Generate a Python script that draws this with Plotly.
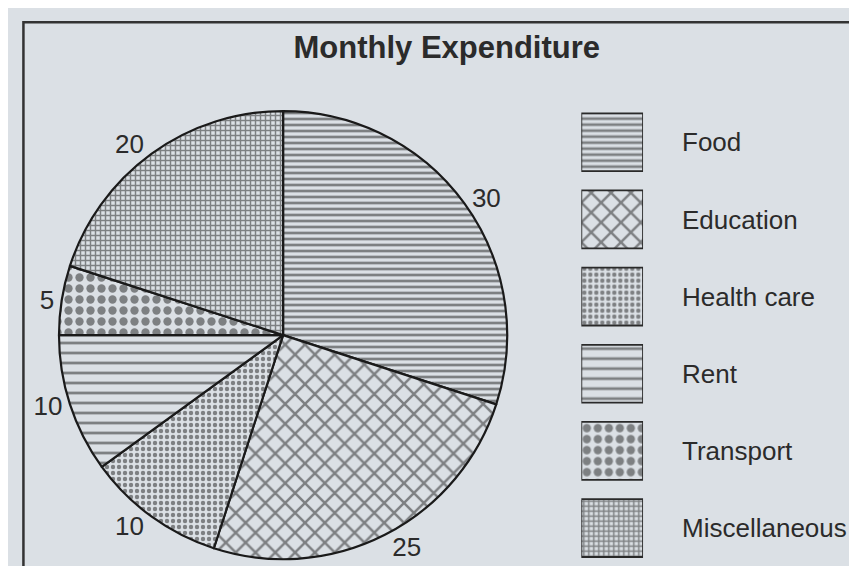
import plotly.graph_objects as go

title = "Monthly Expenditure"
categories = ["Food", "Education", "Health care", "Rent", "Transport", "Miscellaneous"]
values = [30, 25, 10, 10, 5, 20]
pattern_shapes = ["-", "x", ".", "-", ".", "+"]
pattern_sizes = [6, 14, 6, 10, 11, 5]
pattern_solidity = [0.45, 0.32, 0.42, 0.28, 0.45, 0.5]

FONT = "Liberation Sans, Arial, sans-serif"
BG = "#dbe0e5"
INK = "#2b2b2b"
FG = "#1f1f1f"

fig = go.Figure()

fig.add_trace(go.Pie(
    labels=categories,
    values=values,
    sort=False,
    direction="clockwise",
    rotation=0,
    textinfo="value",
    textposition="outside",
    textfont=dict(family=FONT, size=26, color=INK),
    marker=dict(
        colors=[BG] * len(categories),
        line=dict(color="#1a1a1a", width=2.2),
        pattern=dict(shape=pattern_shapes, size=pattern_sizes,
                     solidity=pattern_solidity, fgcolor=FG,
                     bgcolor=BG, fillmode="overlay"),
    ),
    domain=dict(x=[0.0595, 0.5825], y=[0.026, 0.818]),
    showlegend=False,
    hoverinfo="label+value",
))

# legend swatches drawn as a small bar chart of the categories
fig.add_trace(go.Bar(
    x=[1] * len(categories),
    y=categories,
    orientation="h",
    xaxis="x2",
    yaxis="y2",
    marker=dict(
        color=BG,
        line=dict(color="#2a2a2a", width=1.8),
        pattern=dict(shape=pattern_shapes, size=pattern_sizes,
                     solidity=pattern_solidity, fgcolor=FG,
                     bgcolor=BG, fillmode="overlay"),
    ),
    showlegend=False,
    hoverinfo="y",
))

fig.update_layout(
    width=857, height=566,
    margin=dict(l=0, r=0, t=0, b=0),
    paper_bgcolor=BG,
    plot_bgcolor=BG,
    bargap=0.25,
    title=dict(text="<b>" + title + "</b>", x=0.512, xanchor="center",
               y=0.93, yanchor="middle",
               font=dict(family=FONT, size=31, color=INK)),
    xaxis=dict(visible=False),
    yaxis=dict(visible=False),
    xaxis2=dict(domain=[0.669, 0.741], range=[0, 1], visible=False,
                anchor="y2", fixedrange=True),
    yaxis2=dict(domain=[0.013, 0.831], anchor="x2", side="right",
                categoryorder="array", categoryarray=categories,
                autorange="reversed", showgrid=False, showline=False,
                zeroline=False, ticks="", ticklabelstandoff=38,
                tickfont=dict(family=FONT, size=26, color=INK)),
    shapes=[dict(type="rect", xref="paper", yref="paper",
                 x0=0.018, x1=1.02, y0=0.007, y1=0.975,
                 line=dict(color="#333333", width=2.5))],
)

fig.write_html("out.html")
